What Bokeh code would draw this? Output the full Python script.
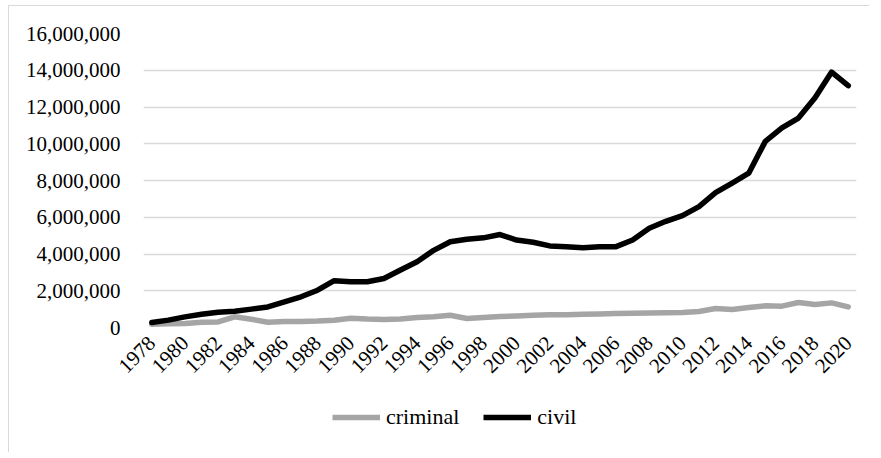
from bokeh.plotting import figure
from bokeh.layouts import column
from bokeh.models import Range1d, FixedTicker, NumeralTickFormatter, Legend, LegendItem
from bokeh.embed import file_html
from bokeh.resources import INLINE
import math

years = list(range(1978, 2021))
civil = [270000, 400000, 580000, 720000, 830000, 890000, 1000000, 1120000, 1400000, 1670000,
         2030000, 2550000, 2490000, 2490000, 2670000, 3130000, 3580000, 4200000, 4670000, 4800000,
         4880000, 5060000, 4760000, 4640000, 4440000, 4400000, 4340000, 4400000, 4400000, 4760000,
         5400000, 5780000, 6090000, 6580000, 7340000, 7860000, 8400000, 10130000, 10860000, 11400000,
         12500000, 13900000, 13160000]
criminal = [180000, 200000, 220000, 280000, 300000, 580000, 450000, 290000, 320000, 320000,
            350000, 400000, 500000, 460000, 440000, 460000, 550000, 580000, 670000, 490000,
            550000, 600000, 630000, 670000, 700000, 700000, 720000, 740000, 760000, 780000,
            790000, 800000, 820000, 870000, 1030000, 980000, 1090000, 1180000, 1160000, 1360000,
            1250000, 1340000, 1120000]
y_ticks = [0, 2000000, 4000000, 6000000, 8000000, 10000000, 12000000, 14000000, 16000000]
x_ticks = list(range(1978, 2021, 2))
series_names = ["criminal", "civil"]
series_colors = ["#a5a5a5", "#000000"]

FONT = "Liberation Serif"

p = figure(width=860, height=380, output_backend="svg", toolbar_location=None,
           x_range=Range1d(1977.5, 2020.5), y_range=Range1d(0, 16000000),
           min_border_left=134, min_border_right=13, min_border_top=27, min_border_bottom=59)
p.outline_line_color = None
p.background_fill_color = "white"

p.xgrid.visible = False
p.ygrid.grid_line_color = "#d9d9d9"
p.ygrid.grid_line_width = 1.5
p.yaxis.ticker = FixedTicker(ticks=y_ticks)
p.yaxis.formatter = NumeralTickFormatter(format="0,0")
p.xaxis.ticker = FixedTicker(ticks=x_ticks)
p.xaxis.major_label_orientation = math.pi / 4
for ax in (p.xaxis, p.yaxis):
    ax.axis_line_color = None
    ax.major_tick_line_color = None
    ax.minor_tick_line_color = None
    ax.major_label_text_font = FONT
    ax.major_label_text_font_size = "21px"
    ax.major_label_text_color = "#000000"
p.yaxis.major_label_standoff = 17
p.xaxis.major_label_standoff = 6

p.line(years, criminal, line_color=series_colors[0], line_width=5.5, line_join="round", line_cap="round")
p.line(years, civil, line_color=series_colors[1], line_width=5.5, line_join="round", line_cap="round")

# legend strip below the chart
lg = figure(width=860, height=66, output_backend="svg", toolbar_location=None,
            x_range=Range1d(0, 1), y_range=Range1d(0, 1), x_axis_type=None, y_axis_type=None,
            min_border=0)
lg.outline_line_color = None
lg.xgrid.visible = False
lg.ygrid.visible = False
lr = [lg.line([-10, -9], [-10, -9], line_color=c, line_width=5.5) for c in series_colors]
legend = Legend(items=[LegendItem(label=n, renderers=[r]) for n, r in zip(series_names, lr)],
                orientation="horizontal", location=(189, 22),
                label_text_font=FONT, label_text_font_size="22px", label_text_color="#000000",
                glyph_width=48, glyph_height=20, label_standoff=6, spacing=24,
                padding=0, margin=0, border_line_color=None, background_fill_alpha=0)
lg.add_layout(legend, "center")

layout = column(p, lg, spacing=0,
                styles={"margin-left": "8px", "margin-top": "5px",
                        "border-left": "1px solid #d9d9d9", "border-top": "1px solid #d9d9d9"})

open("out.html", "w").write(file_html(layout, INLINE))
